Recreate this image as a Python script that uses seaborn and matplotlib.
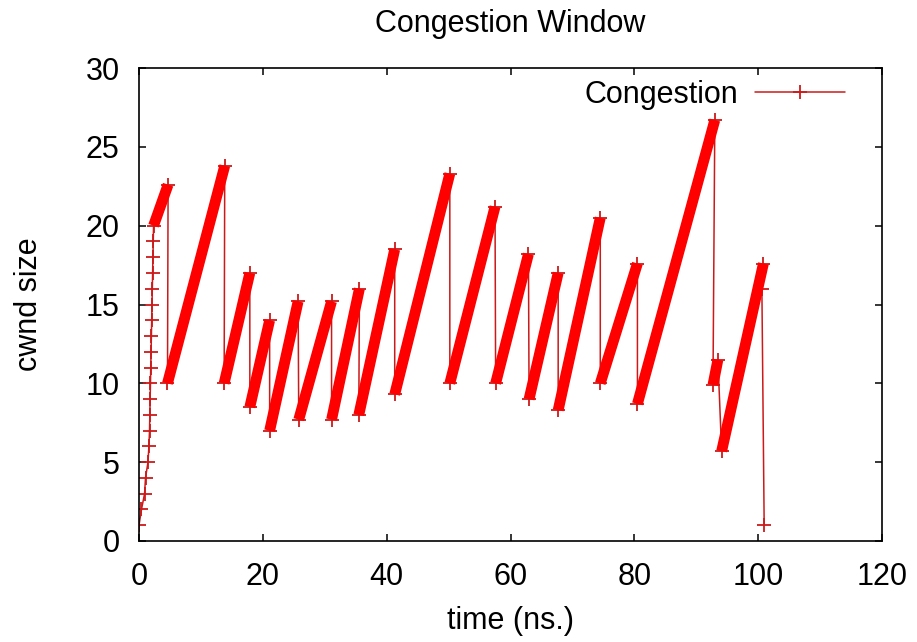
import numpy as np
import pandas as pd
import seaborn as sns
import matplotlib
matplotlib.use('Agg')
import matplotlib.pyplot as plt

# slow start: one point per ack, cwnd grows 1..19
slow_t = [0.0, 0.4, 0.9, 1.05, 1.45, 1.6, 1.7, 1.75, 1.8, 1.85, 1.9, 1.95, 2.0, 2.05, 2.1, 2.15, 2.2, 2.25, 2.3]
slow_cwnd = [1, 2, 3, 4, 5, 6, 7, 8, 9, 10, 11, 12, 13, 14, 15, 16, 17, 18, 19]

# congestion avoidance ramps (start -> end)
ramp_t0 = [2.35, 4.6, 13.75, 17.9, 21.1, 25.8, 31.1, 35.5, 41.3, 50.2, 57.6, 63.0, 67.7, 74.5, 80.5, 92.7, 94.1]
ramp_c0 = [20.0, 10.0, 10.0, 8.5, 7.0, 7.7, 7.7, 8.0, 9.3, 10.0, 10.0, 9.0, 8.3, 10.0, 8.7, 9.9, 5.7]
ramp_t1 = [4.7, 13.85, 17.9, 21.1, 25.7, 31.1, 35.6, 41.3, 50.2, 57.5, 62.9, 67.7, 74.5, 80.5, 93.0, 93.5, 100.85]
ramp_c1 = [22.6, 23.8, 17.0, 14.0, 15.2, 15.2, 16.0, 18.5, 23.3, 21.2, 18.2, 17.0, 20.5, 17.6, 26.7, 11.5, 17.6]

# tail after the last ramp
tail_t = [100.6, 100.97]
tail_cwnd = [16.0, 1.0]

x_ticks = [0, 20, 40, 60, 80, 100, 120]
y_ticks = [0, 5, 10, 15, 20, 25, 30]

sns.set_style('ticks')
plt.rcParams['font.family'] = ['Liberation Sans', 'DejaVu Sans']
plt.rcParams['text.color'] = 'black'
plt.rcParams['axes.labelcolor'] = 'black'
fs = 22

# full path (thin line through every point)
path_t = list(slow_t)
path_c = list(slow_cwnd)
for a, b, c, d in zip(ramp_t0, ramp_c0, ramp_t1, ramp_c1):
    path_t += [a, c]
    path_c += [b, d]
path_t += tail_t
path_c += tail_cwnd
path = pd.DataFrame({'t': path_t, 'cwnd': path_c})

rows = []
for i, (a, b, c, d) in enumerate(zip(ramp_t0, ramp_c0, ramp_t1, ramp_c1)):
    rows.append((i, a, b))
    rows.append((i, c, d))
ramps = pd.DataFrame(rows, columns=['ramp', 't', 'cwnd'])

fig = plt.figure(figsize=(9.17, 6.42), dpi=100)
ax = fig.add_axes([139 / 917, 1 - 541 / 642, (882 - 139) / 917, (541 - 68) / 642])

sns.lineplot(data=path, x='t', y='cwnd', sort=False, estimator=None, ax=ax,
             color='#cc1a1a', lw=1.1, marker='+', markersize=10, mew=1.3,
             mec='#cc1a1a', label='Congestion')
sns.lineplot(data=ramps, x='t', y='cwnd', units='ramp', sort=False, estimator=None,
             ax=ax, color='#ff0000', lw=7.8, legend=False, solid_capstyle='butt')

ax.set_xlim(0, 120)
ax.set_ylim(0, 30)
ax.set_xticks(x_ticks)
ax.set_yticks(y_ticks)
ax.tick_params(direction='in', length=5, width=1.1, top=True, right=True,
               labelsize=fs, pad=14, colors='black')
ax.tick_params(axis='x', pad=15)
for s in ax.spines.values():
    s.set_visible(True)
    s.set_linewidth(1.2)
    s.set_color('black')

ax.set_title('Congestion Window', fontsize=fs, pad=26)
ax.set_xlabel('time (ns.)', fontsize=fs, labelpad=10)
ax.set_ylabel('cwnd size', fontsize=fs, labelpad=30)

ax.legend(loc='center right', bbox_to_anchor=((845 - 139) / 743, 1 - (95 - 68) / 473),
          frameon=False, markerfirst=False, handlelength=2.95, fontsize=fs,
          handletextpad=0.55, borderpad=0, borderaxespad=0)

fig.savefig('out.png', dpi=100)
